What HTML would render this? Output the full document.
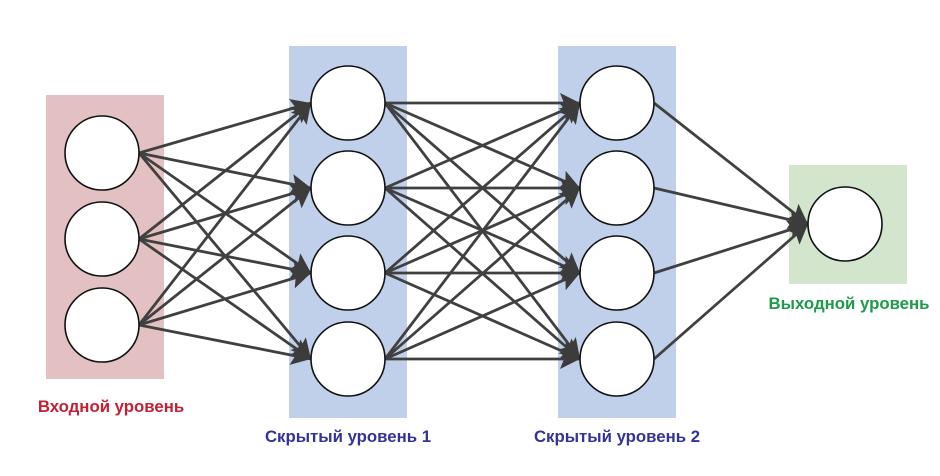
<!DOCTYPE html>
<html><head><meta charset="utf-8"><style>
html,body{margin:0;padding:0;background:#fff;}
svg{display:block}
text{font-family:"Liberation Sans","DejaVu Sans",sans-serif;font-weight:bold;font-size:16.8px;}
</style></head><body>
<svg width="940" height="476" viewBox="0 0 940 476" xmlns="http://www.w3.org/2000/svg">
<defs>
<marker id="ah" viewBox="0 0 10 10" refX="10" refY="5" markerWidth="20" markerHeight="20" markerUnits="userSpaceOnUse" orient="auto">
<path d="M0,0 L10,5 L0,10 L2,5 z" fill="#3c3c3c"/>
</marker>
</defs>
<rect x="46" y="95" width="118" height="284" fill="#e3c1c3"/>
<rect x="289" y="46" width="118" height="372" fill="#c0d0ea"/>
<rect x="558" y="46" width="118" height="372" fill="#c0d0ea"/>
<rect x="789" y="165" width="118" height="119" fill="#d3e5cc"/>
<g stroke="#404040" stroke-width="2.8" marker-end="url(#ah)" id="lines"></g>
<g id="circ" fill="#fff" stroke="#111" stroke-width="1.6"></g>
<text x="111" y="412" fill="#c42035" text-anchor="middle">Входной уровень</text>
<text x="348" y="442" fill="#33339a" text-anchor="middle">Скрытый уровень 1</text>
<text x="617" y="442" fill="#33339a" text-anchor="middle">Скрытый уровень 2</text>
<text x="849" y="309" fill="#1d9a4a" text-anchor="middle">Выходной уровень</text>
<script>
var ns="http://www.w3.org/2000/svg",r=37;
var L=[[102,[153,239,325]],[348,[103,188,273,359]],[617,[103,188,273,359]],[845,[224]]];
var lg=document.getElementById('lines'),cg=document.getElementById('circ');
for(var i=0;i<3;i++){var A=L[i],B=L[i+1];
A[1].forEach(function(y1){B[1].forEach(function(y2){
var l=document.createElementNS(ns,'line');
l.setAttribute('x1',A[0]+r);l.setAttribute('y1',y1);
l.setAttribute('x2',B[0]-r);l.setAttribute('y2',y2);lg.appendChild(l);});});}
L.forEach(function(c){c[1].forEach(function(y){
var e=document.createElementNS(ns,'circle');e.setAttribute('cx',c[0]);e.setAttribute('cy',y);e.setAttribute('r',r);cg.appendChild(e);});});
</script>
</svg>
</body></html>
